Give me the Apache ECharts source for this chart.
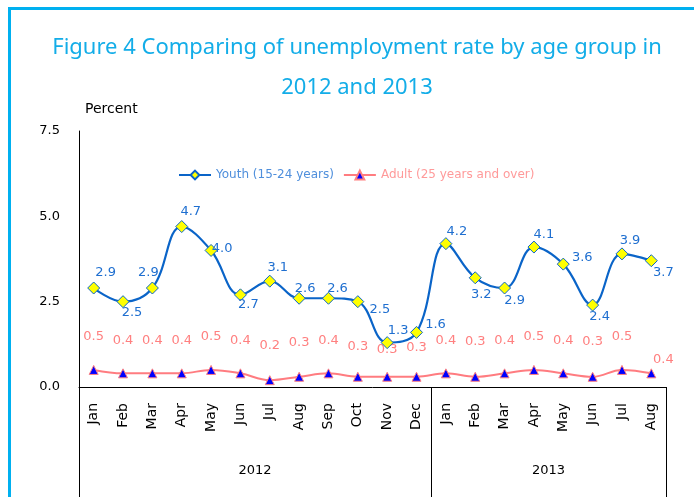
<!DOCTYPE html>
<html>
<head>
<meta charset="utf-8">
<script src="https://cdn.jsdelivr.net/npm/echarts@6/dist/echarts.min.js"></script>
<style>
html,body{margin:0;padding:0;background:#fff;}
#frame{position:absolute;left:8px;top:7px;width:700px;height:500px;border-left:3px solid #00b0f0;border-top:3px solid #00b0f0;}
#chart{position:absolute;left:0;top:0;width:694px;height:497px;}
</style>
</head>
<body>
<div id="frame"></div>
<div id="chart"></div>
<script>
const months = ['Jan','Feb','Mar','Apr','May','Jun','Jul','Aug','Sep','Oct','Nov','Dec','Jan','Feb','Mar','Apr','May','Jun','Jul','Aug'];
const years = ['2012','2013'];
const monthsPerYear = [12, 8];
const youth = [2.9,2.5,2.9,4.7,4.0,2.7,3.1,2.6,2.6,2.5,1.3,1.6,4.2,3.2,2.9,4.1,3.6,2.4,3.9,3.7];
const adult = [0.5,0.4,0.4,0.4,0.5,0.4,0.2,0.3,0.4,0.3,0.3,0.3,0.4,0.3,0.4,0.5,0.4,0.3,0.5,0.4];
const yTicks = [0, 2.5, 5.0, 7.5];
const seriesNames = ['Youth (15-24 years)', 'Adult (25 years and over)'];

// label placement (offset from the point, px)
const youthLabelOffset = [[12,-15],[9,11],[-4,-15],[9,-15],[11,-2],[8,10],[8,-14],[6,-10],[9,-10],[22,8],[11,-12],[19,-8],[11,-12],[6,17],[10,13],[10,-12],[19,-6],[7,12],[8,-13],[12,12]];
const adultLabelOffset = [[0,-33],[0,-33],[0,-33],[0,-33],[0,-33],[0,-33],[0,-35],[0,-34],[0,-33],[0,-30],[0,-27],[0,-29],[0,-33],[0,-35],[0,-33],[0,-33],[0,-33],[0,-35],[0,-33],[12,-14]];

// year boundaries / centres on the auxiliary value axis
const bounds = [0];
monthsPerYear.forEach(n => bounds.push(bounds[bounds.length-1] + n));
const centres = monthsPerYear.map((n, i) => bounds[i] + n / 2);

const FONT = 'DejaVu Sans';
const chart = echarts.init(document.getElementById('chart'), null, {renderer: 'canvas'});
chart.setOption({
  backgroundColor: 'transparent',
  animation: false,
  textStyle: {fontFamily: FONT},
  title: [{
    text: 'Figure 4 Comparing of unemployment rate by age group in\n2012 and 2013',
    left: 352, top: 23, textAlign: 'center',
    textStyle: {fontFamily: 'Noto Sans', fontSize: 22, fontWeight: 'normal', color: '#13ade8', lineHeight: 40}
  }, {
    text: 'Percent', left: 80, top: 97,
    textStyle: {fontFamily: FONT, fontSize: 14, fontWeight: 'normal', color: '#000'}
  }],
  legend: {
    top: 164, left: 173, itemWidth: 32, itemHeight: 11, itemGap: 9,
    textStyle: {fontFamily: FONT, fontSize: 12},
    data: [
      {name: seriesNames[0], textStyle: {color: '#4f8fdc'}},
      {name: seriesNames[1], textStyle: {color: '#ff9a9a'}}
    ]
  },
  grid: {left: 79, right: 28, top: 131, bottom: 110, containLabel: false},
  xAxis: [{
    type: 'category', data: months, position: 'bottom', boundaryGap: true,
    axisLine: {show: true, lineStyle: {color: '#000', width: 1}},
    axisTick: {show: false},
    axisLabel: {rotate: 90, interval: 0, margin: 16, fontSize: 14, color: '#000', fontFamily: FONT}
  }, {
    type: 'value', min: 0, max: bounds[bounds.length-1], position: 'bottom',
    axisLine: {show: false}, splitLine: {show: false},
    axisTick: {show: true, length: 112, customValues: bounds, lineStyle: {color: '#000', width: 1}},
    axisLabel: {customValues: centres, margin: 77, fontSize: 13, color: '#000', fontFamily: FONT,
      formatter: v => years[centres.indexOf(v)] || ''}
  }],
  yAxis: {
    type: 'value', min: yTicks[0], max: yTicks[yTicks.length-1], interval: 2.5,
    axisLine: {show: true, lineStyle: {color: '#000', width: 1}},
    axisTick: {show: false}, splitLine: {show: false},
    axisLabel: {margin: 19, fontSize: 13, color: '#000', fontFamily: FONT, formatter: v => v.toFixed(1)}
  },
  series: [{
    name: seriesNames[0], type: 'line', smooth: 0.4, xAxisIndex: 0,
    data: youth.map((v, i) => ({value: v, label: {offset: youthLabelOffset[i]}})),
    symbol: 'diamond', symbolSize: 12,
    itemStyle: {color: '#ffff00', borderColor: '#0a64c8', borderWidth: 1},
    lineStyle: {color: '#0a64c8', width: 2.2},
    label: {show: true, position: 'inside', fontSize: 13, color: '#1f6fd0', fontFamily: FONT,
      align: 'center', verticalAlign: 'middle', formatter: p => p.value.toFixed(1)},
    z: 3
  }, {
    name: seriesNames[1], type: 'line', smooth: 0.4, xAxisIndex: 0,
    data: adult.map((v, i) => ({value: v, label: {offset: adultLabelOffset[i]}})),
    symbol: 'triangle', symbolSize: 9,
    itemStyle: {color: '#0000ff', borderColor: '#ff8080', borderWidth: 1},
    lineStyle: {color: '#ff7c80', width: 2},
    label: {show: true, position: 'inside', fontSize: 13, color: '#ff8080', fontFamily: FONT,
      align: 'center', verticalAlign: 'middle', formatter: p => p.value.toFixed(1)},
    z: 2
  }]
});
</script>
</body>
</html>
